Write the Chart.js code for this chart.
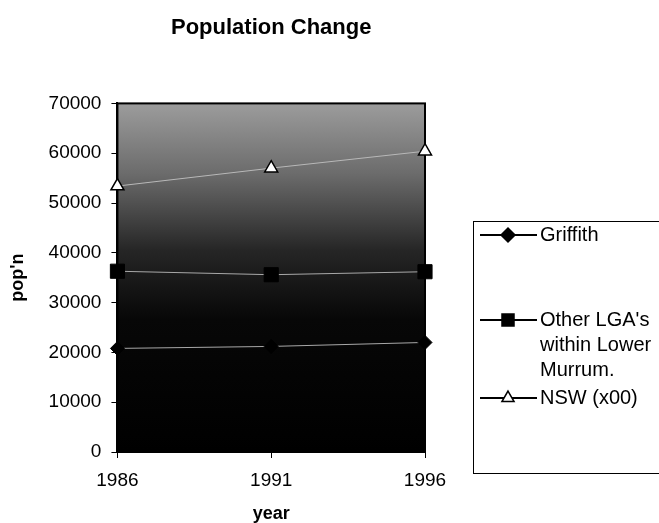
<!DOCTYPE html>
<html>
<head>
<meta charset="utf-8">
<style>
  body { margin: 0; background: #fff; }
  canvas { display: block; }
</style>
<script src="https://cdn.jsdelivr.net/npm/chart.js"></script>
</head>
<body>
<canvas id="myChart" width="659" height="523"></canvas>
<script>
// data
const years = ['1986', '1991', '1996'];
const griffith = [20800, 21200, 22000];
const otherLGA = [36300, 35600, 36200];
const nsw = [53400, 57000, 60400];     // NSW population in hundreds
const seriesNames = [['Griffith'], ["Other LGA's", 'within Lower', 'Murrum.'], ['NSW (x00)']];
const yMax = 70000;
const yStep = 10000;

const FONT = '"Liberation Sans", Arial, sans-serif';

// grey-to-black plot background plus frame
const plotBg = {
  id: 'plotBg',
  beforeDatasetsDraw(chart) {
    const { ctx, chartArea: a } = chart;
    ctx.save();
    const g = ctx.createLinearGradient(0, a.top, 0, a.bottom);
    g.addColorStop(0, '#9c9c9c');
    g.addColorStop(0.2, '#6c6c6c');
    g.addColorStop(0.42, '#262626');
    g.addColorStop(0.62, '#070707');
    g.addColorStop(1, '#000');
    ctx.fillStyle = g;
    ctx.fillRect(a.left, a.top, a.right - a.left, a.bottom - a.top);
    ctx.strokeStyle = '#000';
    ctx.lineWidth = 2;
    ctx.strokeRect(a.left, a.top, a.right - a.left, a.bottom - a.top);
    ctx.restore();
  }
};

// Excel-like legend box on the right
const boxLegend = {
  id: 'boxLegend',
  afterDraw(chart) {
    const ctx = chart.ctx;
    ctx.save();
    ctx.strokeStyle = '#000';
    ctx.lineWidth = 1;
    ctx.strokeRect(473.5, 221.5, 200, 252);
    ctx.font = '20px ' + FONT;
    ctx.fillStyle = '#000';
    ctx.textBaseline = 'middle';
    const rows = [235, 320, 398];
    chart.data.datasets.forEach((ds, i) => {
      const y = rows[i];
      ctx.beginPath();
      ctx.moveTo(480, y);
      ctx.lineTo(537, y);
      ctx.lineWidth = 2;
      ctx.strokeStyle = '#000';
      ctx.stroke();
      ctx.fillStyle = ds.pointBackgroundColor;
      ctx.strokeStyle = '#000';
      ctx.lineWidth = 1.5;
      Chart.helpers.drawPoint(ctx, { pointStyle: ds.pointStyle, radius: ds.legendRadius, rotation: 0, borderWidth: 1.5 }, 508, y);
      ctx.fillStyle = '#000';
      seriesNames[i].forEach((t, j) => ctx.fillText(t, 540, y + j * 25));
    });
    ctx.restore();
  }
};

const ctx = document.getElementById('myChart').getContext('2d');
const myChart = new Chart(ctx, {
  type: 'line',
  data: {
    labels: years,
    datasets: [{
      label: seriesNames[0].join(' '),
      data: griffith,
      borderColor: '#a8a8a8',
      borderWidth: 1,
      pointStyle: 'rectRot',
      pointRadius: 7,
      legendRadius: 7,
      pointBackgroundColor: '#000',
      pointBorderColor: '#000',
      tension: 0
    }, {
      label: seriesNames[1].join(' '),
      data: otherLGA,
      borderColor: '#a8a8a8',
      borderWidth: 1,
      pointStyle: 'rect',
      pointRadius: 10,
      legendRadius: 8.5,
      pointBackgroundColor: '#000',
      pointBorderColor: '#000',
      tension: 0
    }, {
      label: seriesNames[2].join(' '),
      data: nsw,
      borderColor: '#b8b8b8',
      borderWidth: 1,
      pointStyle: 'triangle',
      pointRadius: 7.5,
      legendRadius: 7,
      pointBackgroundColor: '#fff',
      pointBorderColor: '#000',
      pointBorderWidth: 1.5,
      tension: 0
    }]
  },
  options: {
    responsive: false,
    animation: false,
    layout: { padding: { left: 7, right: 234, top: 0, bottom: 0 } },
    plugins: {
      legend: { display: false },
      tooltip: { enabled: false },
      title: {
        display: true,
        text: 'Population Change',
        fullSize: false,
        color: '#000',
        font: { family: FONT, size: 22, weight: 'bold' },
        padding: { top: 15, bottom: 62 }
      }
    },
    scales: {
      x: {
        offset: false,
        grid: { drawOnChartArea: false, tickLength: 6, color: '#000', tickColor: '#000' },
        border: { color: '#000', width: 2 },
        ticks: { color: '#000', font: { family: FONT, size: 19, lineHeight: 1 }, padding: 13, maxRotation: 0 },
        title: { display: true, text: 'year', color: '#000', font: { family: FONT, size: 18, weight: 'bold', lineHeight: 1 }, padding: { top: 2, bottom: 0 } }
      },
      y: {
        min: 0,
        max: yMax,
        grid: { drawOnChartArea: false, tickLength: 6, color: '#000', tickColor: '#000' },
        border: { color: '#000', width: 2 },
        ticks: { stepSize: yStep, color: '#000', font: { family: FONT, size: 19 }, padding: 10, callback: v => String(v) },
        title: { display: true, text: "pop'n", color: '#000', font: { family: FONT, size: 18, weight: 'bold' }, padding: { top: 0, bottom: 10 } }
      }
    }
  },
  plugins: [plotBg, boxLegend]
});
</script>
</body>
</html>
